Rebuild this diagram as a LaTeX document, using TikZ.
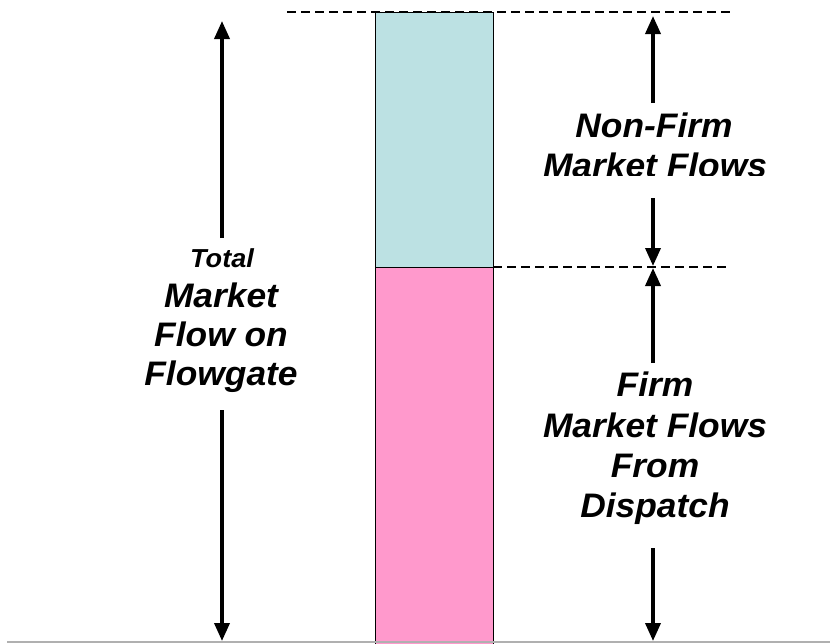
\documentclass[tikz,border=0pt]{standalone}
\usepackage{fontspec}
\setmainfont{Liberation Sans}
\newfontfamily\lblfont[FakeStretch=1.04]{Liberation Sans}
\usetikzlibrary{arrows.meta}
\definecolor{topcyan}{HTML}{BCE1E3}
\definecolor{barpink}{HTML}{FF99CC}
\definecolor{edgegray}{HTML}{B0B0B0}
\tikzset{
  bigarrow/.style={line width=3.6pt,-{Triangle[length=18pt,width=15pt]}},
  dashline/.style={line width=2.4pt,dash pattern=on 9pt off 5pt},
  lbl/.style={font=\lblfont\bfseries\itshape\fontsize{34}{40}\selectfont,inner sep=0pt,anchor=base},
  smalllbl/.style={font=\lblfont\bfseries\itshape\fontsize{26}{30}\selectfont,inner sep=0pt,anchor=base}
}
\begin{document}
\begin{tikzpicture}[x=1pt,y=-1pt]
\useasboundingbox (0,0) rectangle (830,643);
% bars
\filldraw[fill=topcyan,draw=black,line width=0.8pt] (375,12) rectangle (493,267);
\filldraw[fill=barpink,draw=black,line width=0.8pt] (375,267) rectangle (493,645);
% gray edge
\draw[edgegray,line width=1.5pt] (7,642) -- (830,642);
% dashed lines
\coordinate (dtl) at (287,12);
\coordinate (dtr) at (733,12);
\coordinate (dml) at (493,267);
\coordinate (dmr) at (728,267);
\draw[dashline] (dtl) -- (dtr);
\draw[dashline] (dml) -- (dmr);
% left label
\node[smalllbl] (total) at (222,267) {Total};
\node[lbl] (tm1) at (221,307) {Market};
\node[lbl] (tm2) at (221,346) {Flow on};
\node[lbl] (tm3) at (221,385) {Flowgate};
\coordinate (ltop) at (222,21);
\coordinate (lbot) at (222,641);
\coordinate (lus) at (222,238);
\coordinate (lls) at (222,410);
\draw[bigarrow] (lus) -- (ltop);
\draw[bigarrow] (lls) -- (lbot);
% right upper label (clipped)
\node[lbl] (nf1) at (654,137) {Non-Firm};
\begin{scope}
\clip (520,140) rectangle (800,175);
\node[lbl] (nf2) at (655,177) {Market Flows};
\end{scope}
\coordinate (rtop) at (653,16);
\coordinate (rmid1) at (653,266);
\coordinate (rmid2) at (653,268);
\coordinate (rus) at (653,103);
\coordinate (rls) at (653,198);
\draw[bigarrow] (rus) -- (rtop);
\draw[bigarrow] (rls) -- (rmid1);
% right lower label
\node[lbl] (fm1) at (655,396) {Firm};
\node[lbl] (fm2) at (655,437) {Market Flows};
\node[lbl] (fm3) at (655,477) {From};
\node[lbl] (fm4) at (655,517) {Dispatch};
\coordinate (rbot) at (653,641);
\coordinate (rus2) at (653,363);
\coordinate (rls2) at (653,548);
\draw[bigarrow] (rus2) -- (rmid2);
\draw[bigarrow] (rls2) -- (rbot);
\end{tikzpicture}
\end{document}
